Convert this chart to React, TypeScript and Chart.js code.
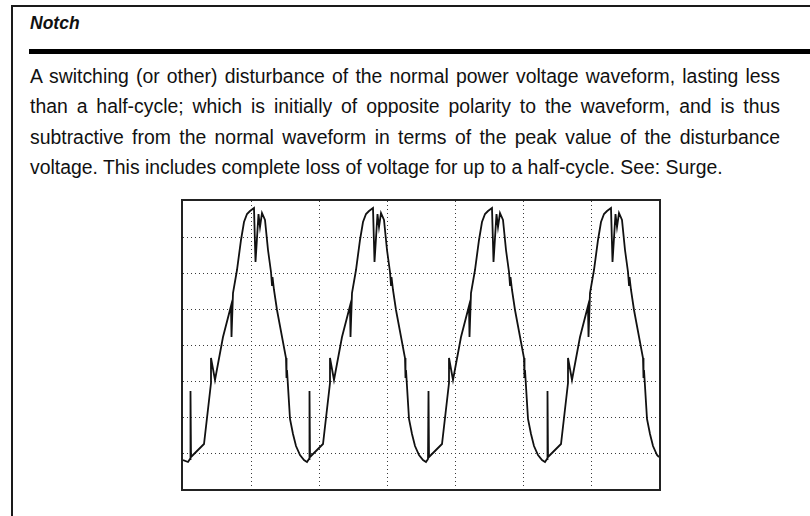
import React, { useEffect, useRef } from "react";
import { Chart, registerables } from "chart.js";

Chart.register(...registerables);

// ---- text ----
const titleText = "Notch";
const paragraphLines = [
  "A switching (or other) disturbance of the normal power voltage waveform, lasting less",
  "than a half-cycle; which is initially of opposite polarity to the waveform, and is thus",
  "subtractive from the normal waveform in terms of the peak value of the disturbance",
  "voltage. This includes complete loss of voltage for up to a half-cycle. See: Surge.",
];

// ---- axis grid (arbitrary oscilloscope units) ----
const timeSpan = 476;
const timeDivision = 68; // 7 divisions
const voltSpan = 288;
const voltDivision = 36; // 8 divisions

// ---- waveform samples ----
const leadInTime = [0];
const leadInVolt = [29];

const cycle1Time = [5, 7, 7.5, 8, 21, 28, 28, 32, 40, 48, 48.5, 50, 54, 58, 61, 64, 67, 71, 72.5, 75.5, 77, 79, 82, 85, 88, 89, 89.5, 91, 94, 103, 103.5, 104, 107, 110, 113, 117, 121];
const cycle1Volt = [27, 30, 98, 32, 45, 106, 131, 109, 152, 183, 152, 196, 219, 249, 267, 275, 278, 281, 227, 275, 262, 276, 269, 239, 217, 204, 212, 199, 179, 131, 111, 119, 70, 55, 43, 34, 29];

const cycle2Time = [124, 126, 126.5, 127, 140, 147, 147, 151, 159, 167, 167.5, 169, 173, 177, 180, 183, 186, 190, 191.5, 194.5, 196, 198, 201, 204, 207, 208, 208.5, 210, 213, 222, 222.5, 223, 226, 229, 232, 236, 240];
const cycle2Volt = [27, 30, 98, 32, 45, 106, 131, 109, 152, 183, 152, 196, 219, 249, 267, 275, 278, 281, 227, 275, 262, 276, 269, 239, 217, 204, 212, 199, 179, 131, 111, 119, 70, 55, 43, 34, 29];

const cycle3Time = [243, 245, 245.5, 246, 259, 266, 266, 270, 278, 286, 286.5, 288, 292, 296, 299, 302, 305, 309, 310.5, 313.5, 315, 317, 320, 323, 326, 327, 327.5, 329, 332, 341, 341.5, 342, 345, 348, 351, 355, 359];
const cycle3Volt = [27, 30, 98, 32, 45, 106, 131, 109, 152, 183, 152, 196, 219, 249, 267, 275, 278, 281, 227, 275, 262, 276, 269, 239, 217, 204, 212, 199, 179, 131, 111, 119, 70, 55, 43, 34, 29];

const cycle4Time = [362, 364, 364.5, 365, 378, 385, 385, 389, 397, 405, 405.5, 407, 411, 415, 418, 421, 424, 428, 429.5, 432.5, 434, 436, 439, 442, 445, 446, 446.5, 448, 451, 460, 460.5, 461, 464, 467, 470, 474];
const cycle4Volt = [27, 30, 98, 32, 45, 106, 131, 109, 152, 183, 152, 196, 219, 249, 267, 275, 278, 281, 227, 275, 262, 276, 269, 239, 217, 204, 212, 199, 179, 131, 111, 119, 70, 55, 43, 34];

const tailTime = [476];
const tailVolt = [32];

const allTime = [...leadInTime, ...cycle1Time, ...cycle2Time, ...cycle3Time, ...cycle4Time, ...tailTime];
const allVolt = [...leadInVolt, ...cycle1Volt, ...cycle2Volt, ...cycle3Volt, ...cycle4Volt, ...tailVolt];

function WaveChart() {
  const ref = useRef<HTMLCanvasElement>(null);
  useEffect(() => {
    const points = allTime.map((t, i) => ({ x: t, y: allVolt[i] }));
    const gridColor = (max: number) => (c: any) =>
      c.tick && (c.tick.value === 0 || c.tick.value === max) ? "rgba(0,0,0,0)" : "#3a3a3a";
    const chart = new Chart(ref.current as HTMLCanvasElement, {
      type: "line",
      data: {
        datasets: [
          {
            data: points,
            borderColor: "#111",
            borderWidth: 1.8,
            pointRadius: 0,
            tension: 0,
            fill: false,
          },
        ],
      },
      options: {
        animation: false,
        responsive: false,
        devicePixelRatio: 1,
        events: [],
        layout: { padding: 0 },
        plugins: { legend: { display: false }, tooltip: { enabled: false } },
        scales: {
          x: {
            type: "linear",
            min: 0,
            max: timeSpan,
            ticks: { display: false, stepSize: timeDivision },
            grid: { color: gridColor(timeSpan), lineWidth: 1, drawTicks: false },
            border: { display: false, dash: [1, 3] },
          },
          y: {
            type: "linear",
            min: 0,
            max: voltSpan,
            ticks: { display: false, stepSize: voltDivision },
            grid: { color: gridColor(voltSpan), lineWidth: 1, drawTicks: false },
            border: { display: false, dash: [1, 3] },
          },
        },
      },
    } as any);
    return () => chart.destroy();
  }, []);
  return <canvas ref={ref} width={476} height={288} style={{ display: "block" }} />;
}

export default function App() {
  const font = "'Liberation Sans', Arial, Helvetica, sans-serif";
  return (
    <div
      style={{
        position: "fixed",
        left: 0,
        top: 0,
        width: 810,
        height: 516,
        overflow: "hidden",
        background: "#fff",
        fontFamily: font,
        color: "#111",
      }}
    >
      <div
        style={{
          position: "absolute",
          left: 11,
          top: 5,
          width: 1000,
          height: 1000,
          border: "2px solid #1a1a1a",
        }}
      />
      <div
        style={{
          position: "absolute",
          left: 30,
          top: 13,
          fontSize: 17.5,
          lineHeight: "20px",
          fontWeight: "bold",
          fontStyle: "italic",
        }}
      >
        {titleText}
      </div>
      <div style={{ position: "absolute", left: 29, top: 49, width: 800, height: 5, background: "#000" }} />
      <div style={{ position: "absolute", left: 30, top: 61, width: 750, fontSize: 19.4 }}>
        {paragraphLines.map((line, i) => (
          <div
            key={i}
            style={{
              height: 30.3,
              lineHeight: "30.3px",
              textAlign: "justify",
              textAlignLast: i < paragraphLines.length - 1 ? "justify" : "left",
            } as any}
          >
            {line}
          </div>
        ))}
      </div>
      <div
        style={{
          position: "absolute",
          left: 181,
          top: 199,
          width: 476,
          height: 288,
          border: "2px solid #222",
        }}
      >
        <WaveChart />
      </div>
    </div>
  );
}
